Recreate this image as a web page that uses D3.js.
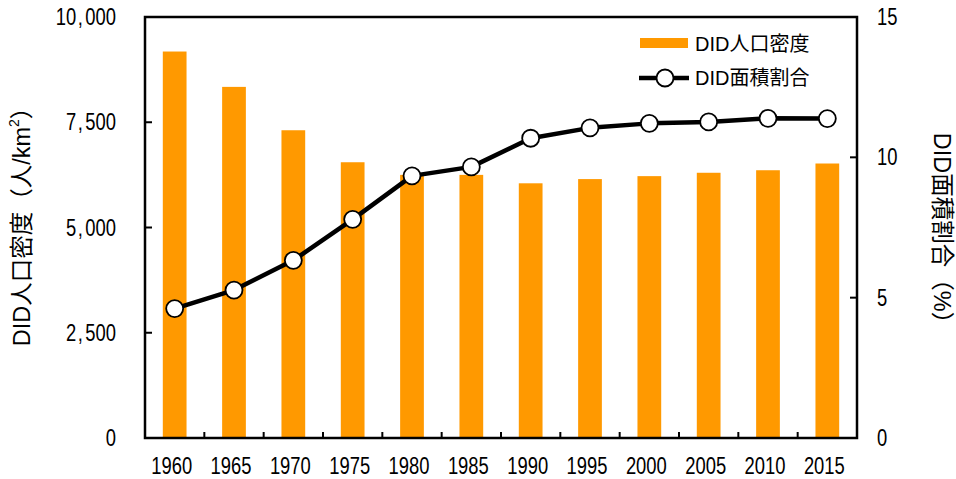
<!DOCTYPE html>
<html>
<head>
<meta charset="utf-8">
<script src="https://cdn.jsdelivr.net/npm/d3@7"></script>
<style>
  body { margin: 0; background: #fff; }
  text { font-family: "Liberation Sans", "Noto Sans CJK JP", sans-serif; fill: #000; }
</style>
</head>
<body>
<div id="chart"></div>
<script>
const years = ['1960','1965','1970','1975','1980','1985','1990','1995','2000','2005','2010','2015'];
const density = [9180, 8340, 7310, 6550, 6250, 6250, 6050, 6150, 6220, 6300, 6360, 6520];
const areaShare = [4.61, 5.27, 6.33, 7.79, 9.34, 9.66, 10.68, 11.05, 11.21, 11.26, 11.39, 11.38];
const leftTicks = [0, 2500, 5000, 7500, 10000];
const rightTicks = [0, 5, 10, 15];

const width = 956, height = 479;
const plotLeft = 145, plotRight = 857, plotTop = 17, plotBottom = 438;
const narrow = 0.8; // tick labels in the original use a tall, narrow face

const svg = d3.select('#chart').append('svg')
  .attr('width', width).attr('height', height);

const x = d3.scaleBand().domain(years).range([plotLeft, plotRight])
  .paddingInner(0.6).paddingOuter(0.3);
const yL = d3.scaleLinear().domain([0, 10000]).range([plotBottom, plotTop]);
const yR = d3.scaleLinear().domain([0, 15]).range([plotBottom, plotTop]);
const step = x.step();

// bars
svg.append('g').selectAll('rect')
  .data(years)
  .enter().append('rect')
  .attr('x', d => x(d))
  .attr('width', x.bandwidth())
  .attr('y', (d, i) => yL(density[i]))
  .attr('height', (d, i) => plotBottom - yL(density[i]))
  .attr('fill', '#ff9900');

// frame
svg.append('rect')
  .attr('x', plotLeft).attr('y', plotTop)
  .attr('width', plotRight - plotLeft).attr('height', plotBottom - plotTop)
  .attr('fill', 'none').attr('stroke', '#000').attr('stroke-width', 2.5);

// left ticks
svg.append('g').selectAll('line')
  .data(leftTicks)
  .enter().append('line')
  .attr('x1', plotLeft).attr('x2', plotLeft + 7)
  .attr('y1', d => yL(d)).attr('y2', d => yL(d))
  .attr('stroke', '#000').attr('stroke-width', 2);
const leftLabels = svg.append('g').selectAll('text')
  .data(leftTicks)
  .enter().append('text')
  .attr('transform', d => `translate(116,${yL(d) + 8}) scale(${narrow},1)`)
  .attr('text-anchor', 'end')
  .style('font-size', '23px');
leftLabels.each(function(d) {
  const parts = d3.format(',')(d).split(',');
  const t = d3.select(this);
  parts.forEach((p, i) => {
    if (i > 0) t.append('tspan').attr('dx', 2).text(',');
    t.append('tspan').attr('dx', i > 0 ? 3 : 0).text(p);
  });
});

// right ticks
svg.append('g').selectAll('line')
  .data(rightTicks)
  .enter().append('line')
  .attr('x1', plotRight - 7).attr('x2', plotRight)
  .attr('y1', d => yR(d)).attr('y2', d => yR(d))
  .attr('stroke', '#000').attr('stroke-width', 2);
svg.append('g').selectAll('text')
  .data(rightTicks)
  .enter().append('text')
  .attr('transform', d => `translate(877,${yR(d) + 8}) scale(${narrow},1)`)
  .attr('text-anchor', 'start')
  .style('font-size', '23px')
  .text(d => d);

// x ticks between categories
svg.append('g').selectAll('line')
  .data(years.slice(0, -1))
  .enter().append('line')
  .attr('x1', d => x(d) + x.bandwidth() / 2 + step / 2)
  .attr('x2', d => x(d) + x.bandwidth() / 2 + step / 2)
  .attr('y1', plotBottom).attr('y2', plotBottom - 6)
  .attr('stroke', '#000').attr('stroke-width', 2);
svg.append('g').selectAll('text')
  .data(years)
  .enter().append('text')
  .attr('transform', d => `translate(${x(d) + x.bandwidth() / 2 - 3},474) scale(${narrow},1)`)
  .attr('text-anchor', 'middle')
  .style('font-size', '23px')
  .text(d => d);

// line series
const line = d3.line()
  .x((d, i) => x(years[i]) + x.bandwidth() / 2)
  .y(d => yR(d));
svg.append('path')
  .datum(areaShare)
  .attr('d', line)
  .attr('fill', 'none').attr('stroke', '#000').attr('stroke-width', 4.5)
  .attr('stroke-linejoin', 'round');
svg.append('g').selectAll('circle')
  .data(areaShare)
  .enter().append('circle')
  .attr('cx', (d, i) => x(years[i]) + x.bandwidth() / 2)
  .attr('cy', d => yR(d))
  .attr('r', 8.5)
  .attr('fill', '#fff').attr('stroke', '#000').attr('stroke-width', 1.8);

// axis titles
const lt = svg.append('text')
  .attr('transform', 'translate(22,221) rotate(-90)')
  .attr('text-anchor', 'middle')
  .attr('dominant-baseline', 'central')
  .style('font-size', '23.5px');
lt.append('tspan').text('DID人口密度（人/km');
lt.append('tspan').attr('baseline-shift', 'super').style('font-size', '14px').text('2');
lt.append('tspan').text('）');

svg.append('text')
  .attr('transform', 'translate(942,234) rotate(90)')
  .attr('text-anchor', 'middle')
  .attr('dominant-baseline', 'central')
  .style('font-size', '23.5px')
  .text('DID面積割合（%）');

// legend
const lg = svg.append('g');
lg.append('rect')
  .attr('x', 640).attr('y', 38).attr('width', 48).attr('height', 10)
  .attr('fill', '#ff9900');
lg.append('text')
  .attr('x', 695).attr('y', 51).style('font-size', '20px')
  .text('DID人口密度');
lg.append('line')
  .attr('x1', 639).attr('x2', 689).attr('y1', 78).attr('y2', 78)
  .attr('stroke', '#000').attr('stroke-width', 4.5);
lg.append('circle')
  .attr('cx', 665).attr('cy', 78).attr('r', 8.5)
  .attr('fill', '#fff').attr('stroke', '#000').attr('stroke-width', 1.8);
lg.append('text')
  .attr('x', 695).attr('y', 85).style('font-size', '20px')
  .text('DID面積割合');
</script>
</body>
</html>
